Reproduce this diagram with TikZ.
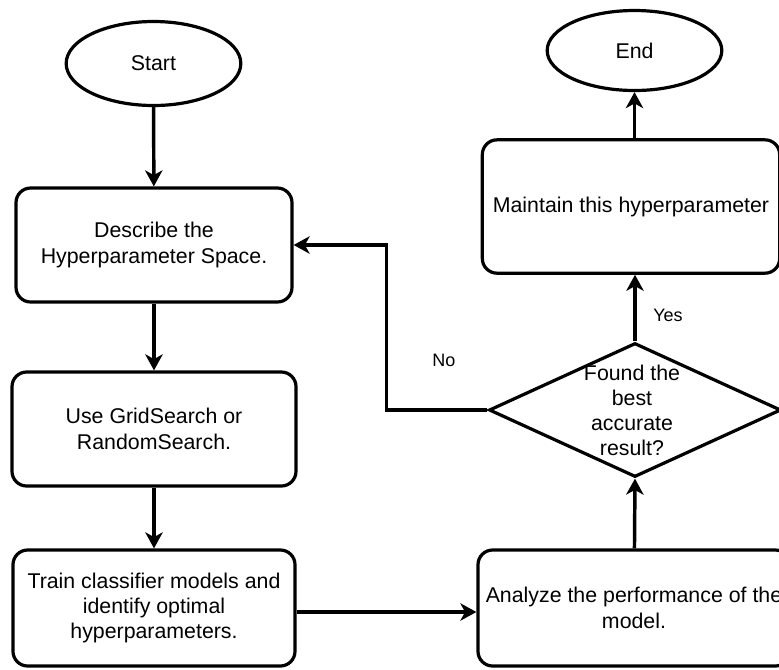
\documentclass[tikz,border=0pt]{standalone}
\usepackage{fontspec}
\setmainfont{Liberation Sans}
\usetikzlibrary{shapes.geometric,arrows.meta}
\begin{document}
\begin{tikzpicture}[x=0.75pt,y=-0.75pt,
  every node/.style={font=\fontsize{16}{19}\selectfont, align=center, inner sep=0pt},
  shp/.style={draw=black, line width=2.4pt},
  termbox/.style={shp, ellipse},
  stepbox/.style={shp, rounded corners=11pt},
  decbox/.style={shp, diamond},
  conn/.style={line width=2.6pt, -{Stealth[length=12pt,width=13pt,inset=3.5pt]}},
  lbl/.style={font=\fontsize{13.5}{16}\selectfont}
]
\useasboundingbox (0,0) rectangle (779,669);

\node[termbox, minimum width=131pt, minimum height=63pt] (start) at (153.5,63.5) {Start};
\node[termbox, minimum width=131pt, minimum height=60pt] (end) at (634.5,50.5) {End};

\node[stepbox, minimum width=207pt, minimum height=85.5pt] (describe) at (154,245) {Describe the\\Hyperparameter Space.};
\node[stepbox, minimum width=213pt, minimum height=85.5pt] (use) at (154,429) {Use GridSearch or\\RandomSearch.};
\node[stepbox, minimum width=211.5pt, minimum height=87pt] (train) at (154,608) {Train classifier models and\\identify optimal\\hyperparameters.};
\node[stepbox, minimum width=234pt, minimum height=87pt] (analyze) at (634,608) {Analyze the performance of the\\model.};
\node[stepbox, minimum width=223pt, minimum height=100pt] (maintain) at (631,206.5) {Maintain this hyperparameter};

\node[decbox, minimum width=219pt, minimum height=100.5pt] (dec) at (635,410) {};
\node[font=\fontsize{16}{18.75}\selectfont] (dectext) at (632,410.5) {Found the\\best\\accurate\\result?};

\draw[conn] (start) -- (describe);
\draw[conn] (describe) -- (use);
\draw[conn] (use) -- (train);
\draw[conn] ([yshift=-3pt]train.east) -- ([yshift=-3pt]analyze.west);
\draw[conn] (analyze) -- (dec.south);
\draw[conn] (dec.north) -- (maintain.south -| dec.north);
\draw[conn] (maintain.north -| end.south) -- (end.south);
\draw[conn] (dec.west) -- ++(-101,0) |- (describe.east);

\node[lbl] (yes) at (668,315) {Yes};
\node[lbl] (no) at (444,360) {No};
\end{tikzpicture}
\end{document}
